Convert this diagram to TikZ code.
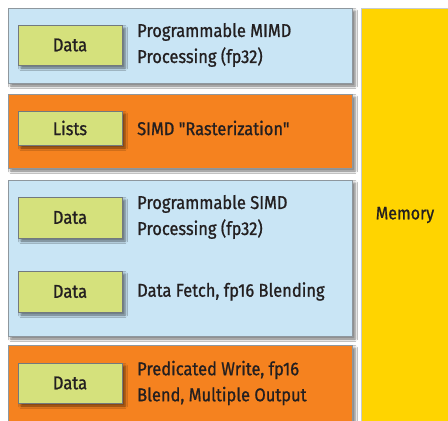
\documentclass[tikz,border=0pt]{standalone}
\usepackage{fontspec}
\setmainfont{Fira Sans}[FakeStretch=0.89, FakeBold=1.0, Ligatures=TeXOff]
\usetikzlibrary{shadows.blur}

\definecolor{stageblue}{HTML}{C9E5F5}
\definecolor{stageorange}{HTML}{F5821F}
\definecolor{chipgreen}{HTML}{D5E17C}
\definecolor{memyellow}{HTML}{FFD400}
\definecolor{edgegrey}{HTML}{8E979E}
\definecolor{inkdark}{HTML}{231F20}

\tikzset{
  softshadow/.style={blur shadow={shadow xshift=3pt, shadow yshift=-3pt,
      shadow blur radius=2.5pt, shadow opacity=55}},
  panel/.style={draw=edgegrey, line width=0.8pt, softshadow,
      anchor=north west, inner sep=0pt, outer sep=0pt},
  chip/.style={draw=edgegrey!80!black, line width=0.5pt, fill=chipgreen,
      softshadow, minimum width=104pt, inner sep=0pt, text=inkdark,
      font=\fontsize{18.5}{20}\selectfont},
  label/.style={anchor=west, align=left, inner sep=0pt, text=inkdark,
      font=\fontsize{18.5}{26}\selectfont},
}

\begin{document}
\begin{tikzpicture}[x=1pt, y=-1pt]
  \useasboundingbox[fill=white] (0,0) rectangle (448,421);

  % memory column on the right
  \node[panel, draw=edgegrey!50, fill=memyellow, minimum width=92pt, minimum height=418pt] (mem) at (361,8) {};
  \node[text=inkdark, font=\fontsize{18}{20}\selectfont] (memtxt) at (405,215) {Memory};

  % pipeline stages
  \node[panel, fill=stageblue, minimum width=344pt, minimum height=75pt] (s1) at (8,8) {};
  \node[panel, fill=stageorange, minimum width=344pt, minimum height=74pt] (s2) at (8,94) {};
  \node[panel, fill=stageblue, minimum width=344pt, minimum height=156pt] (s3) at (8,180) {};
  \node[panel, fill=stageorange, minimum width=344pt, minimum height=85pt] (s4) at (8,345) {};

  % stream tags
  \node[chip, minimum height=40pt] (c1) at (70,45) {Data};
  \node[chip, minimum height=34pt] (c2) at (70,128) {Lists};
  \node[chip, minimum height=41pt] (c3) at (70,217.5) {Data};
  \node[chip, minimum height=41pt] (c4) at (70,291.5) {Data};
  \node[chip, minimum height=40pt] (c5) at (70,383) {Data};

  % stage descriptions
  \node[label] (t1) at (137,45) {Programmable MIMD\\Processing (fp32)};
  \node[label] (t2) at (137,128) {SIMD "Rasterization"};
  \node[label] (t3) at (137,217) {Programmable SIMD\\Processing (fp32)};
  \node[label] (t4) at (137,291.5) {Data Fetch, fp16 Blending};
  \node[label] (t5) at (137,383) {Predicated Write, fp16\\Blend, Multiple Output};
\end{tikzpicture}
\end{document}
